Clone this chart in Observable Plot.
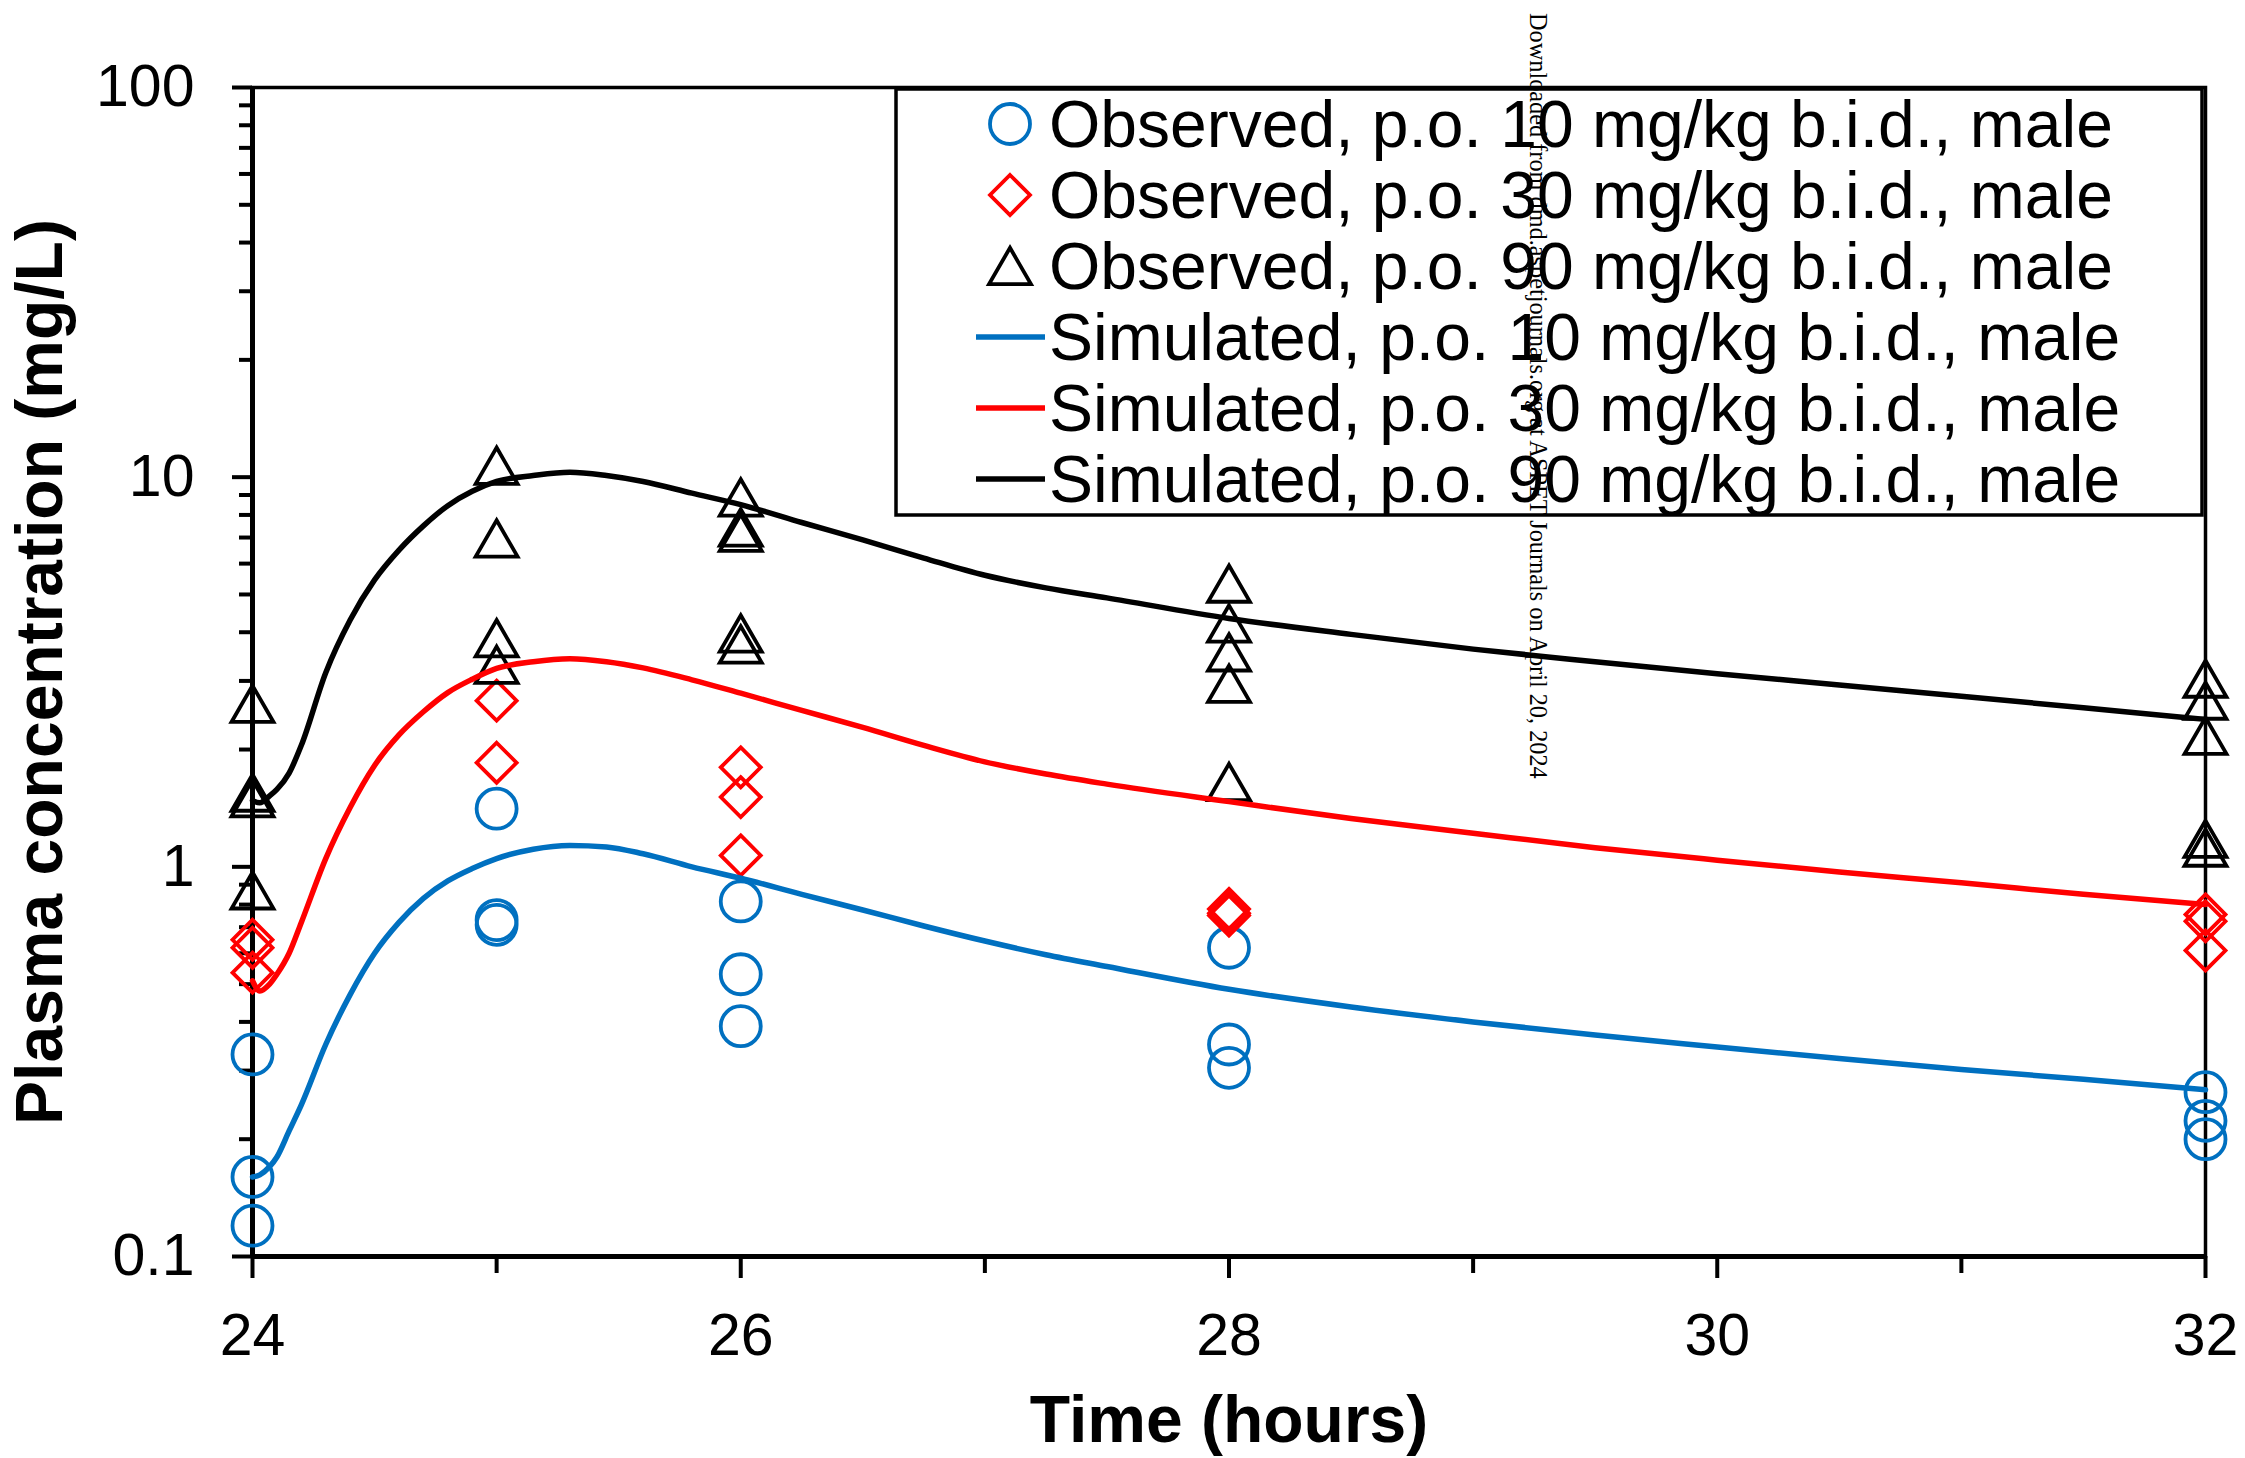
<!DOCTYPE html>
<html>
<head>
<meta charset="utf-8">
<script src="https://cdn.jsdelivr.net/npm/d3@7"></script>
<script src="https://cdn.jsdelivr.net/npm/@observablehq/plot@0.6"></script>
<style>
  html, body { margin: 0; padding: 0; background: #fff; }
  #wrap { position: relative; width: 2245px; height: 1458px; overflow: hidden; font-family: Arial, "Liberation Sans", sans-serif; }
  #wrap svg { position: absolute; left: 0; top: 0; }
</style>
</head>
<body>
<div id="wrap"></div>
<script>
// ---------- axis definitions ----------
const xDomain = [24, 32];
const yDomain = [0.1, 100];
const xMajor = [24, 26, 28, 30, 32];
const xMinor = [25, 27, 29, 31];
const yMajor = [0.1, 1, 10, 100];
const yMinor = [0.2, 0.3, 0.4, 0.5, 0.6, 0.7, 0.8, 0.9, 2, 3, 4, 5, 6, 7, 8, 9, 20, 30, 40, 50, 60, 70, 80, 90];
const xTitle = "Time (hours)";
const yTitle = "Plasma concentration (mg/L)";

// ---------- observed data ----------
const obs10Time = [24, 24, 24, 25, 25, 25, 26, 26, 26, 28, 28, 28, 32, 32, 32];
const obs10Conc = [0.33, 0.16, 0.12, 1.41, 0.73, 0.71, 0.815, 0.53, 0.39, 0.62, 0.35, 0.305, 0.264, 0.223, 0.20];

const obs30Time = [24, 24, 24, 25, 25, 26, 26, 26, 28, 28, 28, 32, 32, 32];
const obs30Conc = [0.65, 0.62, 0.535, 2.67, 1.85, 1.80, 1.51, 1.07, 0.78, 0.76, 0.75, 0.755, 0.725, 0.61];

const obs90Time = [24, 24, 24, 24, 25, 25, 25, 25, 26, 26, 26, 26, 26, 28, 28, 28, 28, 28, 32, 32, 32, 32, 32];
const obs90Conc = [2.62, 1.55, 1.5, 0.87, 10.7, 6.96, 3.86, 3.30, 8.87, 7.43, 7.2, 3.97, 3.72, 5.33, 4.21, 3.55, 2.95, 1.65, 3.04, 2.67, 2.17, 1.18, 1.12];

// ---------- simulated data ----------
const simTime = [24, 24.03, 24.07, 24.1, 24.15, 24.2, 24.3, 24.4, 24.5, 24.6, 24.7, 24.8, 24.9, 25, 25.15, 25.3, 25.45, 25.6, 25.8, 26, 26.25, 26.5, 26.75, 27, 27.25, 27.5, 28, 28.5, 29, 29.5, 30, 30.5, 31, 31.5, 32];
const sim10 = [0.16, 0.162, 0.170, 0.18, 0.21, 0.245, 0.35, 0.47, 0.60, 0.72, 0.83, 0.92, 0.99, 1.05, 1.11, 1.135, 1.125, 1.08, 1.00, 0.935, 0.85, 0.775, 0.705, 0.645, 0.595, 0.555, 0.485, 0.437, 0.40, 0.37, 0.345, 0.322, 0.302, 0.285, 0.268];
const sim30 = [0.51, 0.48, 0.50, 0.53, 0.60, 0.72, 1.05, 1.42, 1.82, 2.18, 2.50, 2.80, 3.03, 3.23, 3.36, 3.42, 3.36, 3.24, 3.02, 2.79, 2.52, 2.28, 2.05, 1.86, 1.73, 1.63, 1.47, 1.33, 1.22, 1.12, 1.04, 0.97, 0.91, 0.85, 0.80];
const sim90 = [1.48, 1.46, 1.52, 1.58, 1.74, 2.05, 3.15, 4.30, 5.45, 6.50, 7.50, 8.45, 9.20, 9.75, 10.1, 10.3, 10.1, 9.75, 9.1, 8.5, 7.65, 6.9, 6.2, 5.6, 5.2, 4.9, 4.34, 3.95, 3.62, 3.36, 3.13, 2.93, 2.74, 2.56, 2.39];

// ---------- legend ----------
const legendLabels = [
  "Observed, p.o. 10 mg/kg b.i.d., male",
  "Observed, p.o. 30 mg/kg b.i.d., male",
  "Observed, p.o. 90 mg/kg b.i.d., male",
  "Simulated, p.o. 10 mg/kg b.i.d., male",
  "Simulated, p.o. 30 mg/kg b.i.d., male",
  "Simulated, p.o. 90 mg/kg b.i.d., male"
];
const watermark = "Downloaded from dmd.aspetjournals.org at ASPET Journals on April 20, 2024";

// ---------- build tables ----------
const BLUE = "#0070C0", RED = "#FF0000", BLACK = "#000000";
const obs10 = obs10Time.map((t, i) => ({t, c: obs10Conc[i]}));
const obs30 = obs30Time.map((t, i) => ({t, c: obs30Conc[i]}));
const obs90 = obs90Time.map((t, i) => ({t, c: obs90Conc[i]}));
const sim = simTime.map((t, i) => ({t, c10: sim10[i], c30: sim30[i], c90: sim90[i]}));

const chart = Plot.plot({
  width: 2245,
  height: 1458,
  marginLeft: 252,
  marginRight: 40,
  marginTop: 87,
  marginBottom: 202,
  style: {fontFamily: "Arial, 'Liberation Sans', sans-serif", background: "white", color: "black", overflow: "visible"},
  x: {type: "linear", domain: xDomain},
  y: {type: "log", domain: yDomain},
  marks: [
    Plot.frame({stroke: BLACK, strokeWidth: 3.5}),
    Plot.axisX({ticks: xMinor, tickSize: 17, strokeWidth: 4, fill: "none", label: null}),
    Plot.axisX({ticks: xMajor, tickSize: 22, tickPadding: 35, strokeWidth: 4, fontSize: 59, label: null, tickFormat: d => String(d)}),
    Plot.axisY({ticks: yMinor, tickSize: 13, strokeWidth: 4, fill: "none", label: null}),
    Plot.axisY({ticks: yMajor, tickSize: 20, tickPadding: 38, strokeWidth: 4, fontSize: 59, label: null, tickFormat: d => String(d)}),
    Plot.ruleX([xDomain[0]], {stroke: BLACK, strokeWidth: 5}),
    Plot.ruleY([yDomain[0]], {stroke: BLACK, strokeWidth: 5}),
    Plot.dot(obs10, {x: "t", y: "c", symbol: "circle", r: 20, stroke: BLUE, strokeWidth: 3.8, fill: "none"}),
    Plot.dot(obs30, {x: "t", y: "c", symbol: "diamond2", r: 18, stroke: RED, strokeWidth: 3.8, fill: "none"}),
    Plot.dot(obs90, {x: "t", y: "c", symbol: "triangle2", r: 20, dy: 6, stroke: BLACK, strokeWidth: 3.8, fill: "none"}),
    Plot.line(sim, {x: "t", y: "c10", stroke: BLUE, strokeWidth: 5.5, curve: "monotone-x"}),
    Plot.line(sim, {x: "t", y: "c30", stroke: RED, strokeWidth: 5.5, curve: "monotone-x"}),
    Plot.line(sim, {x: "t", y: "c90", stroke: BLACK, strokeWidth: 5.5, curve: "monotone-x"}),
    Plot.text([xTitle], {text: d => d, frameAnchor: "bottom", lineAnchor: "middle", textAnchor: "middle", dy: 164, fontSize: 66, fontWeight: "bold"}),
    Plot.text([yTitle], {text: d => d, frameAnchor: "left", lineAnchor: "middle", textAnchor: "middle", dx: -212, rotate: -90, fontSize: 66, fontWeight: "bold"})
  ]
});

const wrap = document.getElementById("wrap");
wrap.appendChild(chart);

// ---------- legend + watermark overlay ----------
const ov = d3.create("svg")
  .attr("width", 2245).attr("height", 1458)
  .style("pointer-events", "none")
  .style("font-family", "Arial, 'Liberation Sans', sans-serif");

ov.append("rect")
  .attr("x", 896).attr("y", 89).attr("width", 1306).attr("height", 426)
  .attr("fill", "white").attr("stroke", BLACK).attr("stroke-width", 3.5);

const legendColors = [BLUE, RED, BLACK, BLUE, RED, BLACK];
const legendSymbols = [d3.symbolCircle, d3.symbolDiamond2, d3.symbolTriangle2, null, null, null];
const legendSizes = [Math.PI * 20 * 20, Math.PI * 18 * 18, Math.PI * 20 * 20, 0, 0, 0];
legendLabels.forEach((lab, i) => {
  const yb = 147 + 71 * i;
  const ym = yb - 23;
  if (legendSymbols[i]) {
    ov.append("path")
      .attr("d", d3.symbol(legendSymbols[i], legendSizes[i])())
      .attr("transform", `translate(1010,${ym + (i === 2 ? 6 : 0)})`)
      .attr("fill", "none").attr("stroke", legendColors[i]).attr("stroke-width", 3.8);
  } else {
    ov.append("line")
      .attr("x1", 976).attr("x2", 1045).attr("y1", ym).attr("y2", ym)
      .attr("stroke", legendColors[i]).attr("stroke-width", 5.5);
  }
  ov.append("text")
    .attr("x", 1049).attr("y", yb)
    .attr("font-size", 66).attr("fill", BLACK)
    .text(lab);
});

ov.append("text")
  .attr("transform", "translate(1530,13) rotate(90)")
  .attr("font-family", "'Liberation Serif', 'Times New Roman', serif")
  .attr("font-size", 24.3)
  .attr("fill", BLACK)
  .attr("text-anchor", "start")
  .text(watermark);

wrap.appendChild(ov.node());
</script>
</body>
</html>
